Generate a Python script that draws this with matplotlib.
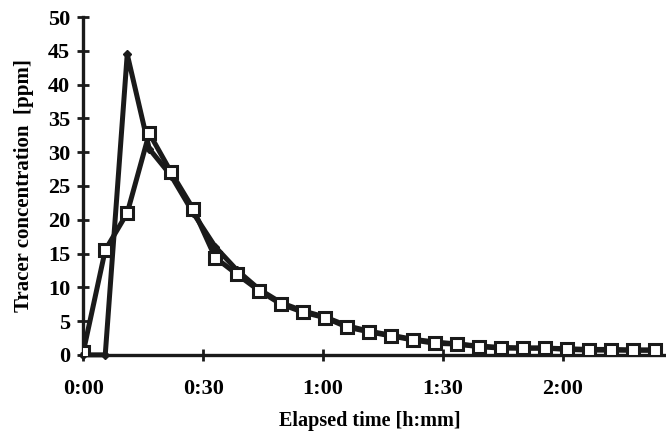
import numpy as np
import matplotlib.pyplot as plt
from matplotlib.ticker import FuncFormatter

# elapsed time of each sample [min]
t_min = [0, 5.5, 11, 16.5, 22, 27.5, 33, 38.5, 44, 49.5, 55, 60.5, 66, 71.5,
         77, 82.5, 88, 93.5, 99, 104.5, 110, 115.5, 121, 126.5, 132, 137.5, 143]

# series with squares
conc_sq = [0.4, 15.5, 21.0, 32.8, 27.0, 21.6, 14.4, 11.9, 9.5, 7.5, 6.3, 5.5, 4.1,
           3.4, 2.8, 2.2, 1.7, 1.6, 1.2, 1.0, 1.0, 1.0, 0.8, 0.7, 0.7, 0.7, 0.7]

# series with the sharp peak
conc_pk = [0.0, 0.0, 44.5, 30.5, 26.5, 21.0, 16.0, 12.5, 9.7, 7.7, 6.5, 5.6, 4.3,
           3.5, 2.9, 2.3, 1.9, 1.6, 1.3, 1.1, 1.0, 1.0, 0.9, 0.8, 0.8, 0.7, 0.7]

plt.rcParams['font.family'] = ['Liberation Serif', 'DejaVu Serif']
plt.rcParams['font.weight'] = 'bold'

fig = plt.figure(figsize=(6.66, 4.37), dpi=100)
ax = fig.add_axes([0.125, 0.188, 0.875, 0.773])

ax.plot(t_min, conc_pk, color='#1a1a1a', lw=3.6, marker='D', ms=4,
        zorder=2, clip_on=False)
ax.plot(t_min, conc_sq, color='#1a1a1a', lw=3.6, marker='s', ms=9,
        mfc='white', mec='#1a1a1a', mew=2.2, zorder=3, clip_on=True)

ax.set_xlim(0, 145.75)
ax.set_ylim(0, 50)
ax.set_yticks(np.arange(0, 51, 5))
ax.set_xticks([0, 30, 60, 90, 120])
ax.xaxis.set_major_formatter(FuncFormatter(lambda v, p: f'{int(v)//60}:{int(v)%60:02d}'))

for s in ['top', 'right']:
    ax.spines[s].set_visible(False)
for s in ['left', 'bottom']:
    ax.spines[s].set_linewidth(2.4)
    ax.spines[s].set_color('#1a1a1a')

ax.tick_params(axis='both', direction='inout', length=9, width=2, color='#1a1a1a',
               labelsize=16)
ax.tick_params(axis='x', pad=13)
ax.tick_params(axis='y', pad=5)
for lab in ax.get_xticklabels() + ax.get_yticklabels():
    lab.set_fontweight('bold')

ax.set_ylabel('Tracer concentration  [ppm]', fontsize=15, fontweight='bold', labelpad=10)
ax.set_xlabel('Elapsed time [h:mm]', fontsize=14.5, fontweight='bold')
ax.xaxis.set_label_coords((370 - 83) / 583, -0.165)

fig.savefig('out.png', dpi=100)
